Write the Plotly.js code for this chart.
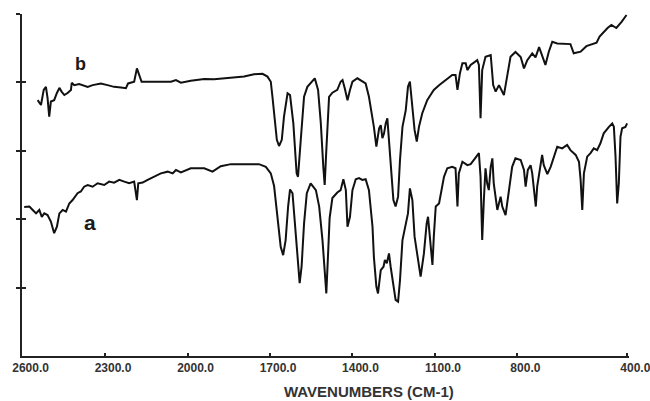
<!DOCTYPE html>
<html>
<head>
<meta charset="utf-8">
<script src="https://cdn.plot.ly/plotly-3.0.1.min.js"></script>
<style>
  html, body { margin: 0; padding: 0; background: #fff; }
  #chart { width: 650px; height: 401px; }
</style>
</head>
<body>
<div id="chart"></div>
<script>
// Spectrum b (upper trace): wavenumber (cm-1) and relative transmittance
const bWavenumber = [2545,2533,2523,2515,2509,2503,2497,2485,2475,2466,2458,2448,2436,2424,2421,2412,2394,2363,2345,2315,2291,2267,2242,2224,2216,2194,2184,2176,2167,2121,2060,2042,2024,1988,1939,1903,1842,1794,1758,1727,1709,1697,1691,1685,1675,1667,1657,1649,1636,1627,1615,1603,1598,1588,1576,1564,1537,1525,1515,1506,1501,1495,1488,1485,1473,1455,1443,1436,1428,1418,1409,1400,1382,1364,1352,1340,1331,1322,1313,1303,1297,1291,1285,1279,1273,1267,1258,1251,1243,1234,1227,1218,1206,1198,1191,1182,1174,1166,1158,1146,1128,1116,1104,1085,1061,1037,1025,1018,1009,1000,988,982,970,952,946,940,934,928,916,897,888,879,867,849,837,825,807,788,776,764,746,734,721,710,698,686,673,655,607,595,570,549,512,501,486,472,458,440,421,403];
const bValue = [74.8,73.4,77.8,78.7,75.4,70.0,74.4,74.8,76.9,78.4,77.3,76.3,76.9,77.8,79.9,79.2,79.5,78.7,79.2,79.7,79.2,78.7,78.5,78.3,79.7,80.2,84.1,82.2,80.2,80.2,80.2,80.7,79.9,80.5,81.0,80.9,81.4,81.7,82.4,82.5,81.7,80.2,75.8,71.0,63.2,61.4,63.2,70.0,76.8,76.3,68.0,53.4,52.4,63.2,75.8,78.7,81.2,77.8,68.0,55.3,50.0,60.2,72.0,75.8,77.0,77.8,80.2,80.7,78.3,74.8,77.8,80.2,81.2,80.2,79.7,75.8,71.9,67.0,61.2,66.6,67.5,63.7,65.1,68.0,69.5,63.2,54.4,45.6,43.7,46.6,57.3,67.0,71.9,78.7,80.2,72.9,66.1,62.7,67.0,71.0,74.8,76.3,77.8,79.2,80.7,82.2,82.2,77.8,82.7,85.6,85.6,83.6,85.1,86.1,86.5,85.1,69.5,83.6,87.5,88.0,79.2,77.3,79.2,76.3,82.2,87.5,88.9,87.4,84.1,86.5,88.5,87.3,90.3,87.7,85.1,88.9,91.9,91.4,91.2,88.5,89.0,90.6,91.6,93.4,94.8,95.9,96.8,95.9,97.7,99.7];

// Spectrum a (lower trace)
const aWavenumber = [2594,2575,2563,2551,2539,2530,2521,2509,2497,2485,2475,2466,2454,2442,2430,2418,2400,2388,2376,2363,2345,2327,2303,2285,2267,2248,2230,2212,2194,2184,2179,2163,2145,2121,2097,2072,2054,2042,2024,1988,1939,1909,1879,1842,1794,1740,1715,1697,1685,1673,1661,1652,1643,1634,1627,1618,1610,1600,1592,1585,1576,1566,1552,1533,1521,1509,1500,1495,1488,1483,1473,1455,1443,1433,1424,1418,1409,1400,1388,1376,1364,1352,1340,1327,1322,1313,1307,1297,1287,1282,1275,1267,1261,1251,1243,1234,1227,1218,1206,1198,1191,1182,1174,1162,1152,1140,1130,1125,1116,1109,1104,1097,1085,1079,1067,1055,1037,1025,1018,1013,1000,982,970,952,940,934,928,922,916,910,904,897,891,886,879,873,861,855,843,831,819,807,788,776,770,762,752,746,738,733,728,716,710,704,691,679,667,655,637,619,607,588,576,570,564,558,546,534,522,510,498,486,467,455,449,443,437,431,425,419,407,401];
const aValue = [43.6,43.7,42.7,41.7,42.7,40.7,41.7,41.2,39.3,35.9,37.8,41.7,42.7,42.2,44.6,45.6,47.6,48.1,49.5,50.0,49.5,50.5,50.0,51.0,50.7,51.5,51.0,50.5,51.0,45.6,50.5,50.7,51.5,52.4,53.4,53.9,53.4,54.4,53.7,54.9,54.9,53.9,55.5,56.1,56.1,56.1,55.3,53.4,49.7,39.8,31.9,29.5,33.9,43.7,48.7,47.6,38.8,28.1,21.3,26.1,38.8,47.6,50.5,48.5,43.7,33.9,22.2,18.3,31.0,40.3,46.2,47.8,48.5,51.7,48.5,37.8,40.7,48.5,51.7,52.0,51.5,51.7,48.5,37.8,29.0,20.3,18.3,25.1,26.1,28.1,27.1,30.0,26.1,20.3,16.4,15.9,22.2,33.9,38.8,41.7,49.0,45.6,34.9,28.1,23.2,30.0,38.8,40.7,33.9,26.6,34.9,43.7,44.6,47.1,52.4,54.9,55.3,54.9,43.7,53.4,56.8,55.8,56.1,58.0,59.3,52.4,33.9,45.6,54.9,50.5,48.5,55.3,57.8,50.5,45.6,42.7,46.6,43.7,41.2,47.6,55.3,57.8,57.3,54.4,49.5,54.4,55.8,53.4,46.6,43.7,49.5,56.8,58.8,55.8,53.2,55.3,58.3,61.2,60.7,61.7,60.2,58.8,56.8,51.5,42.7,53.4,58.3,59.3,60.7,60.2,62.2,65.1,67.0,68.0,67.0,58.3,44.6,50.5,64.1,66.6,67.0,68.0];

// Axis ticks
const xTickValues = [2600, 2300, 2000, 1700, 1400, 1100, 800, 400];
const xTickLabels = ["2600.0", "2300.0", "2000.0", "1700.0", "1400.0", "1100.0", "800.0", "400.0"];
const yTickValues = [20, 40, 60, 80, 100];
const xTitle = "WAVENUMBERS (CM-1)";
const traceLabels = [
  { text: "b", x: 2391, y: 85.4, size: 18 },
  { text: "a", x: 2355, y: 39.0, size: 21 }
];

const lineStyle = { color: "#111111", width: 2 };

const traces = [
  { x: bWavenumber, y: bValue, type: "scatter", mode: "lines", line: lineStyle, hoverinfo: "skip", showlegend: false },
  { x: aWavenumber, y: aValue, type: "scatter", mode: "lines", line: lineStyle, hoverinfo: "skip", showlegend: false },
  { x: [], y: [], type: "scatter", mode: "lines", yaxis: "y2", showlegend: false, hoverinfo: "skip" }
];

const annotations = traceLabels.map(l => ({
  text: l.text, x: l.x, y: l.y, xref: "x", yref: "y",
  showarrow: false, xanchor: "center", yanchor: "middle",
  font: { family: "Liberation Sans, Arial, sans-serif", size: l.size, weight: "bold", color: "#1a1a1a" }
}));
annotations.push({
  text: xTitle, xref: "paper", yref: "paper", x: 0.5717, y: -0.105,
  xanchor: "center", yanchor: "middle", showarrow: false,
  font: { family: "Liberation Sans, Arial, sans-serif", size: 15, weight: "bold", color: "#333" }
});

const layout = {
  width: 650, height: 401,
  margin: { l: 22, r: 21, t: 14, b: 45 },
  paper_bgcolor: "#ffffff", plot_bgcolor: "#ffffff",
  showlegend: false,
  xaxis: {
    range: [2602, 394], tickmode: "array", tickvals: xTickValues, ticktext: xTickLabels,
    ticks: "inside", ticklen: 3, tickwidth: 2, tickcolor: "#222",
    showline: true, linewidth: 2, linecolor: "#222",
    showgrid: false, zeroline: false, ticklabelshift: -8, ticklabeloverflow: "allow",
    tickfont: { family: "Liberation Sans, Arial, sans-serif", size: 12, weight: "bold", color: "#333" }
  },
  yaxis: {
    range: [0, 100], tickmode: "array", tickvals: yTickValues,
    ticks: "outside", ticklen: 4, tickwidth: 2, tickcolor: "#222",
    showline: true, linewidth: 2, linecolor: "#222",
    showgrid: false, zeroline: false, showticklabels: false
  },
  yaxis2: {
    overlaying: "y", side: "left", range: [0, 100], tickmode: "array", tickvals: yTickValues,
    ticks: "inside", ticklen: 4, tickwidth: 2, tickcolor: "#222",
    showline: false, showgrid: false, zeroline: false, showticklabels: false
  },
  annotations: annotations
};

Plotly.newPlot("chart", traces, layout, { staticPlot: true, displayModeBar: false });
</script>
</body>
</html>
